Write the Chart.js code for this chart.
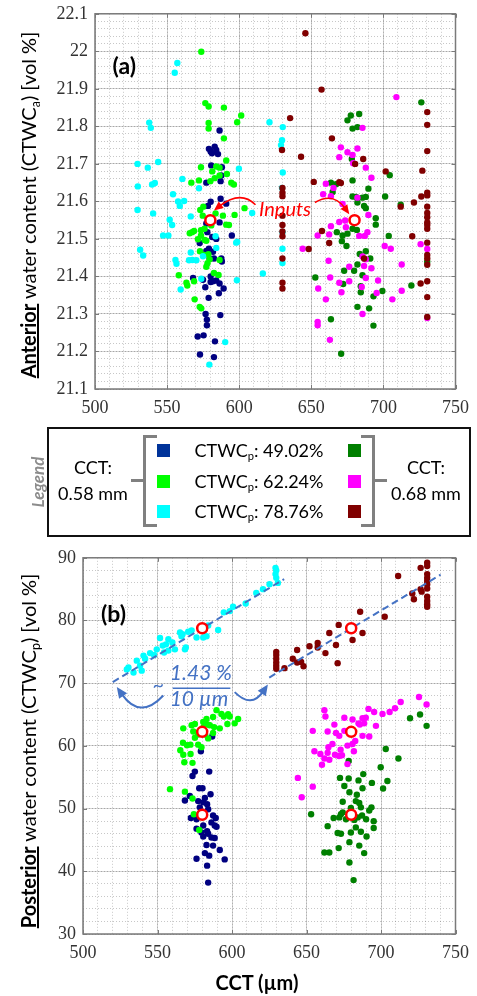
<!DOCTYPE html>
<html>
<head>
<meta charset="utf-8">
<script src="https://cdn.jsdelivr.net/npm/chart.js@4.4.1/dist/chart.umd.min.js"></script>
<style>
body { margin:0; background:#fff; width:477px; height:996px; position:relative; overflow:hidden; font-family: Lato, "Open Sans", sans-serif; color:#000; }
#topBox { position:absolute; left:0; top:-4px; width:477px; height:424px; }
#botBox { position:absolute; left:0; top:540px; width:477px; height:456px; }
.rot { position:absolute; white-space:nowrap; transform: translate(-50%,-50%) rotate(-90deg); }
.ytitle { font-size:20px; }
.ytitle b { text-decoration: underline; }
sub { font-size:0.62em; vertical-align:-0.3em; line-height:0; }
#legendBox { position:absolute; left:47px; top:427px; width:424px; height:110px; border:2px solid #111; box-sizing:border-box; }
.lg { position:absolute; white-space:nowrap; font-size:18px; transform: translate(-50%,-50%); }
.sq { position:absolute; width:13px; height:13px; }
.br { position:absolute; border:3px solid #808080; box-sizing:border-box; }
.tk { position:absolute; height:3px; background:#808080; }
</style>
</head>
<body>
<div id="topBox"><canvas id="antChart" width="477" height="424"></canvas></div>
<div id="botBox"><canvas id="postChart" width="477" height="456"></canvas></div>

<div class="rot ytitle" style="left:28px; top:205px;"><b>Anterior</b> water content (CTWC<sub>a</sub>) [vol %]</div>
<div class="rot ytitle" style="left:28px; top:751px;"><b>Posterior</b> water content (CTWC<sub>p</sub>) [vol %]</div>
<div class="lg" style="left:257px; top:982px; font-size:20px; font-weight:bold;">CCT (µm)</div>

<div class="rot" style="left:37px; top:482px; font-size:17px; font-weight:bold; font-style:italic; color:#8c8c8c;">Legend</div>
<div id="legendBox"></div>
<div class="lg" style="left:93px; top:467px;">CCT:</div>
<div class="lg" style="left:93px; top:493px;">0.58 mm</div>
<div class="lg" style="left:426px; top:467px;">CCT:</div>
<div class="lg" style="left:426px; top:493px;">0.68 mm</div>
<div class="tk" style="left:131px; top:479px; width:14px;"></div>
<div class="br" style="left:143px; top:435px; width:14px; height:92px; border-right:none;"></div>
<div class="br" style="left:361px; top:435px; width:14px; height:92px; border-left:none;"></div>
<div class="tk" style="left:373px; top:479px; width:14px;"></div>
<div id="legendRows"></div>

<script>
// CCT 0.58 mm groups (left), CCT 0.68 mm groups (right); [CCT um, water content]
var antBlue = [[586.4,21.789],[579.0,21.740],[583.0,21.746],[584.1,21.737],[581.1,21.728],[585.3,21.726],[580.2,21.733],[580.6,21.696],[588.0,21.691],[587.6,21.669],[577.2,21.650],[587.1,21.654],[587.1,21.607],[591.0,21.594],[580.2,21.599],[578.3,21.588],[586.4,21.544],[577.2,21.541],[577.9,21.518],[594.9,21.509],[581.3,21.505],[572.6,21.489],[584.1,21.500],[579.0,21.474],[577.2,21.468],[581.8,21.466],[579.5,21.448],[582.5,21.448],[587.6,21.448],[588.0,21.440],[568.0,21.396],[574.9,21.391],[580.2,21.400],[581.8,21.387],[580.2,21.385],[584.1,21.389],[586.4,21.381],[589.2,21.368],[585.9,21.355],[576.5,21.371],[578.8,21.343],[576.7,21.300],[577.6,21.285],[586.9,21.297],[571.2,21.240],[575.3,21.243],[583.2,21.227],[572.8,21.192],[582.5,21.185],[577.6,21.270]];
var antLime = [[573.7,21.999],[576.5,21.862],[578.8,21.853],[589.4,21.850],[601.4,21.829],[598.6,21.811],[578.8,21.809],[578.8,21.794],[589.4,21.768],[591.0,21.709],[573.5,21.691],[584.1,21.693],[586.4,21.690],[581.3,21.680],[591.5,21.673],[586.4,21.669],[583.0,21.662],[580.0,21.654],[572.1,21.656],[566.8,21.650],[594.5,21.650],[596.3,21.645],[575.1,21.586],[573.0,21.577],[574.7,21.562],[583.6,21.568],[588.7,21.562],[596.8,21.564],[603.7,21.582],[591.0,21.538],[592.9,21.537],[567.3,21.518],[568.7,21.521],[565.7,21.515],[576.0,21.527],[573.5,21.523],[580.6,21.536],[571.4,21.499],[576.0,21.497],[577.2,21.495],[573.5,21.509],[572.8,21.467],[578.6,21.459],[579.5,21.446],[578.0,21.435],[577.2,21.426],[586.4,21.444],[558.1,21.403],[563.4,21.383],[568.7,21.387],[569.1,21.339],[572.6,21.319],[573.7,21.315],[575.6,21.457],[585.7,21.404],[582.5,21.409],[564.0,21.376]];
var antCyan = [[557.1,21.969],[555.3,21.943],[537.6,21.810],[538.7,21.796],[529.5,21.700],[536.6,21.690],[543.8,21.705],[529.7,21.640],[539.6,21.645],[541.5,21.649],[560.6,21.660],[554.1,21.619],[557.6,21.600],[558.8,21.588],[561.8,21.601],[540.3,21.568],[529.5,21.577],[572.1,21.635],[551.8,21.551],[553.5,21.537],[547.2,21.509],[550.9,21.509],[566.4,21.560],[531.3,21.471],[533.4,21.456],[555.8,21.444],[556.5,21.434],[566.4,21.464],[567.5,21.444],[570.3,21.443],[565.2,21.443],[574.9,21.454],[584.1,21.476],[598.6,21.492],[598.4,21.390],[559.4,21.365],[573.7,21.394],[599.8,21.687],[609.0,21.569],[621.0,21.811],[630.2,21.798],[629.7,21.763],[629.0,21.750],[630.2,21.677],[629.7,21.636],[630.0,21.518],[630.0,21.474],[630.0,21.436],[616.4,21.408],[590.3,21.225],[579.3,21.165],[583.6,21.507],[597.9,21.490]];
var antGreen = [[726.3,21.864],[677.4,21.829],[675.1,21.816],[683.2,21.833],[678.6,21.794],[682.0,21.798],[678.1,21.713],[704.4,21.670],[678.6,21.656],[663.6,21.650],[667.1,21.646],[689.6,21.634],[664.8,21.625],[678.6,21.613],[681.0,21.612],[685.5,21.610],[687.8,21.612],[682.0,21.597],[686.6,21.588],[687.8,21.582],[701.2,21.613],[712.0,21.591],[694.7,21.555],[694.7,21.538],[678.6,21.527],[681.6,21.524],[667.7,21.518],[671.7,21.509],[675.1,21.514],[671.2,21.494],[674.4,21.481],[703.7,21.508],[687.8,21.467],[683.6,21.460],[690.9,21.448],[682.0,21.432],[672.8,21.415],[679.7,21.415],[685.5,21.403],[652.8,21.397],[672.1,21.380],[684.3,21.374],[684.3,21.358],[699.3,21.361],[719.4,21.376],[693.1,21.347],[682.0,21.319],[690.1,21.315],[693.1,21.269],[663.6,21.286],[730.4,21.439],[670.7,21.194]];
var antPink = [[709.0,21.878],[685.5,21.796],[670.5,21.744],[675.1,21.731],[682.0,21.741],[669.4,21.718],[678.6,21.724],[679.0,21.702],[687.8,21.690],[691.7,21.663],[660.1,21.647],[665.4,21.636],[658.2,21.619],[663.6,21.614],[671.7,21.593],[682.0,21.610],[689.6,21.564],[663.6,21.534],[669.4,21.545],[673.5,21.549],[674.0,21.531],[654.4,21.509],[662.4,21.512],[688.9,21.518],[683.2,21.508],[687.1,21.508],[644.0,21.474],[700.9,21.481],[705.1,21.474],[725.8,21.486],[730.4,21.473],[662.0,21.442],[685.5,21.453],[687.8,21.446],[686.6,21.428],[691.7,21.422],[676.3,21.426],[712.7,21.432],[663.1,21.397],[669.4,21.383],[676.3,21.387],[687.8,21.396],[696.3,21.389],[685.0,21.372],[654.8,21.368],[670.9,21.358],[695.3,21.356],[712.7,21.362],[660.1,21.339],[706.2,21.339],[685.5,21.300],[654.4,21.279],[730.4,21.289],[662.9,21.231],[654.4,21.270]];
var antRed = [[645.9,22.048],[657.1,21.898],[635.3,21.822],[664.3,21.768],[629.7,21.737],[642.9,21.719],[651.7,21.652],[669.4,21.651],[670.5,21.649],[630.0,21.636],[630.0,21.623],[630.0,21.614],[630.0,21.562],[630.0,21.537],[630.0,21.520],[630.0,21.507],[630.0,21.448],[630.0,21.383],[630.0,21.368],[686.0,21.713],[680.4,21.700],[701.6,21.680],[727.0,21.682],[730.4,21.838],[730.4,21.804],[730.4,21.734],[730.4,21.623],[730.4,21.616],[726.3,21.613],[721.2,21.597],[712.0,21.586],[730.4,21.586],[730.4,21.569],[730.4,21.558],[730.4,21.544],[730.4,21.537],[730.4,21.527],[730.4,21.490],[730.4,21.457],[730.4,21.448],[730.4,21.431],[730.4,21.387],[730.4,21.345],[730.4,21.292],[720.0,21.507],[725.8,21.381],[657.4,21.521],[662.4,21.489],[648.2,21.473],[686.6,21.448]];

var postBlue = [[586.7,61.5],[579.1,59.15],[575.1,55.9],[573.5,55.2],[584.7,55.9],[578.0,53.25],[580.2,53.25],[571.7,52.0],[568.4,51.3],[577.3,51.2],[580.7,51.0],[583.3,50.7],[585.6,52.3],[578.4,50.2],[584.0,49.9],[572.4,48.5],[576.2,48.3],[587.3,48.9],[589.1,48.5],[586.2,47.8],[588.4,47.3],[589.6,47.1],[580.7,47.3],[576.2,46.8],[583.3,46.4],[579.5,46.2],[584.0,46.0],[580.7,45.55],[586.2,45.4],[588.4,45.3],[582.9,44.2],[587.3,44.1],[591.8,43.4],[581.8,42.9],[584.7,42.5],[576.2,42.0],[595.1,41.9],[583.3,40.9],[584.0,38.2],[578.4,49.1],[581.8,51.7]];
var postLime = [[567.3,62.8],[572.9,63.3],[580.7,62.9],[584.0,63.4],[587.3,62.05],[591.8,62.8],[589.6,65.7],[594.5,64.7],[597.4,65.05],[598.5,64.7],[596.9,63.5],[601.8,63.6],[604.1,64.3],[577.3,61.8],[574.0,62.3],[575.1,61.3],[584.0,61.2],[567.1,60.5],[569.8,60.1],[572.1,60.2],[577.3,60.2],[579.5,59.8],[565.3,59.3],[567.3,58.6],[572.2,58.7],[568.0,57.4],[573.5,57.3],[558.4,53.1],[568.4,52.7],[573.5,51.6],[574.4,49.1],[578.0,46.6],[575.1,63.5],[580.7,63.8],[582.9,64.3],[587.3,64.6],[592.9,65.1],[585.1,63.3],[578.0,62.2],[582.0,61.8],[588.0,63.0]];
var postCyan = [[629.2,88.4],[629.7,88.0],[629.2,87.4],[629.7,86.8],[630.8,86.0],[625.2,85.8],[620.8,85.0],[616.3,84.4],[609.2,82.7],[600.7,82.2],[598.5,81.5],[594.5,81.3],[590.7,78.5],[584.0,79.2],[582.9,77.5],[580.7,77.3],[576.2,77.3],[572.9,78.4],[570.6,78.2],[566.8,77.8],[566.1,77.5],[565.1,78.1],[569.0,75.7],[561.7,75.4],[557.3,77.0],[551.7,77.2],[557.3,75.2],[555.7,76.2],[553.5,76.0],[554.4,74.9],[549.5,75.4],[547.7,74.5],[540.6,74.4],[541.7,73.9],[536.1,73.6],[538.3,72.8],[539.4,72.0],[533.9,71.7],[530.5,72.5],[529.4,72.2],[568.4,75.4],[545.0,74.8],[560.0,76.5]];
var postGreen = [[719.5,64.4],[726.2,65.0],[730.6,63.2],[711.7,58.0],[703.2,59.5],[699.8,56.6],[704.3,54.4],[701.4,53.2],[693.9,54.1],[688.1,55.5],[687.6,53.25],[684.9,54.5],[678.3,57.6],[672.5,54.9],[678.3,54.8],[675.4,53.6],[678.8,52.6],[683.8,52.2],[674.3,51.1],[683.1,51.2],[685.4,50.9],[679.8,50.1],[686.5,50.2],[692.1,49.7],[693.6,50.2],[673.1,49.1],[674.3,49.4],[668.2,48.5],[672.0,48.6],[676.5,48.3],[682.1,48.2],[684.4,48.6],[687.3,48.9],[690.0,48.3],[695.1,48.0],[695.1,46.9],[683.1,47.0],[686.5,46.3],[679.8,46.2],[690.3,45.55],[670.9,46.1],[673.1,46.0],[664.2,47.2],[653.1,49.1],[671.6,43.7],[678.8,44.65],[685.4,44.1],[688.7,42.9],[662.0,43.0],[665.3,43.0],[678.8,41.4],[681.6,38.6]];
var postPink = [[725.5,67.8],[730.6,66.6],[713.2,67.0],[709.4,66.0],[705.8,65.4],[691.6,65.9],[695.4,65.4],[701.0,65.1],[662.0,65.7],[662.7,64.7],[668.7,63.4],[675.4,64.5],[680.9,64.2],[684.9,63.6],[687.6,64.4],[689.8,64.5],[688.7,63.6],[685.8,63.4],[696.6,63.2],[654.2,62.4],[664.2,62.3],[669.8,62.05],[672.0,61.6],[675.4,62.4],[678.8,62.3],[687.6,61.6],[692.1,61.5],[682.7,60.8],[680.9,60.3],[677.5,60.05],[667.4,60.3],[664.7,59.8],[672.9,59.4],[681.8,59.15],[655.3,59.15],[659.3,58.7],[664.2,58.9],[669.1,58.6],[671.8,58.4],[662.0,58.0],[665.3,57.8],[660.4,57.0],[677.5,57.1],[673.8,58.5],[644.2,54.9],[654.2,53.5],[646.8,51.8]];
var postRed = [[731,89.2],[731,88.7],[731,87.4],[731,86.8],[731,86.3],[731,85.8],[731,85.1],[731,83.8],[731,83.1],[731,82.6],[731,82.2],[726.6,88.4],[726.6,85.0],[727.3,84.6],[721.0,84.3],[722.1,83.4],[711.5,87.1],[702.5,80.6],[687.6,78.0],[686.0,81.4],[680.9,76.9],[671.6,79.3],[665.3,78.0],[669.8,76.1],[670.9,73.2],[662.7,74.8],[657.5,76.4],[652.0,75.9],[657.5,75.7],[643.7,75.3],[643.7,73.3],[646.4,73.4],[648.0,72.7],[640.8,73.9],[629.7,75.0],[629.7,74.5],[629.7,73.9],[629.7,73.3],[629.7,72.8],[629.7,72.3],[635.2,72.4]];

// model inputs (red open circles)
var inputCCT = [580, 680];
var inputAnt = [21.55];
var inputPost = [49.02, 62.24, 78.76];

// trend lines, ~1.43 % per 10 um
var trendLeftX = [520, 635];
var trendLeftY = [70.18, 86.6];
var trendRightX = [625, 740];
var trendRightY = [70.9, 87.3];

var legendLabels = ["49.02%", "62.24%", "78.76%"];
var colLeft = ["#000080", "#00ff00", "#00ffff"];
var colRight = ["#008000", "#ff00ff", "#800000"];
var legendLeft = ["#00339a", "#00ff00", "#00ffff"];
var legendRight = ["#007f00", "#ff00ff", "#800000"];

var tickFont = { family: "Liberation Serif", size: 18 };
var majorGrid = "rgba(0,0,0,0.17)";
var minorGrid = "rgba(0,0,0,0.22)";
var frameColor = "#7a7a7a";

function dots(pts, color)
{
    return {
        data: pts.map(function (p) { return {x: p[0], y: p[1]}; }),
        backgroundColor: color,
        borderWidth: 0,
        pointRadius: 3.2,
        pointHoverRadius: 3.2,
        order: 2
    };
}

function inputCircles(ys)
{
    var pts = [];
    inputCCT.forEach(function (x) { ys.forEach(function (y) { pts.push({x: x, y: y}); }); });
    return {
        data: pts,
        backgroundColor: "#ffffff",
        borderColor: "#ff0000",
        borderWidth: 2.5,
        pointRadius: 5,
        pointHoverRadius: 5,
        order: 0
    };
}

function trend(xs, ys)
{
    return {
        data: xs.map(function (x, i) { return {x: x, y: ys[i]}; }),
        showLine: true,
        borderColor: "#4472c4",
        borderWidth: 2,
        borderDash: [7, 4],
        pointRadius: 0,
        order: 1
    };
}

function makeScales(xr, yr, xHeight, yWidth, labelFmt)
{
    return {
        x: {
            type: "linear", position: "bottom", min: xr[0], max: xr[1],
            ticks: { stepSize: xr[2], autoSkip: false, maxRotation: 0, padding: 8, color: "#333333", font: tickFont },
            grid: { color: majorGrid, drawTicks: false },
            border: { display: false },
            afterFit: function (s) { s.height = xHeight; }
        },
        xm: {
            type: "linear", position: "bottom", min: xr[0], max: xr[1],
            ticks: { display: false, stepSize: xr[3] },
            grid: { color: minorGrid, drawTicks: false },
            border: { display: false, dash: [1, 2] },
            afterFit: function (s) { s.height = 0; }
        },
        y: {
            type: "linear", position: "left", min: yr[0], max: yr[1],
            ticks: { stepSize: yr[2], autoSkip: false, padding: 7, color: "#333333", font: tickFont, callback: labelFmt },
            grid: { color: majorGrid, drawTicks: false },
            border: { display: false },
            afterFit: function (s) { s.width = yWidth; }
        },
        ym: {
            type: "linear", position: "left", min: yr[0], max: yr[1],
            ticks: { display: false, stepSize: yr[3] },
            grid: { color: minorGrid, drawTicks: false },
            border: { display: false, dash: [1, 2] },
            afterFit: function (s) { s.width = 0; }
        }
    };
}

// box round the plot area with short inward ticks, like the original figure
var framePlugin = {
    id: "frame",
    afterDraw: function (chart) {
        var ctx = chart.ctx, a = chart.chartArea;
        ctx.save();
        ctx.strokeStyle = frameColor;
        ctx.lineWidth = 1.5;
        ctx.strokeRect(a.left, a.top, a.right - a.left, a.bottom - a.top);
        ctx.lineWidth = 1;
        ctx.beginPath();
        chart.scales.x.ticks.forEach(function (t) {
            var px = Math.round(chart.scales.x.getPixelForValue(t.value)) + 0.5;
            ctx.moveTo(px, a.bottom); ctx.lineTo(px, a.bottom - 4);
            ctx.moveTo(px, a.top); ctx.lineTo(px, a.top + 4);
        });
        chart.scales.y.ticks.forEach(function (t) {
            var py = Math.round(chart.scales.y.getPixelForValue(t.value)) + 0.5;
            ctx.moveTo(a.left, py); ctx.lineTo(a.left + 4, py);
            ctx.moveTo(a.right, py); ctx.lineTo(a.right - 4, py);
        });
        ctx.stroke();
        ctx.restore();
    }
};

function drawArrow(ctx, p0, c, p2, color, width, head)
{
    ctx.strokeStyle = color;
    ctx.fillStyle = color;
    ctx.lineWidth = width;
    var ang = Math.atan2(p2.y - c.y, p2.x - c.x);
    var ex = p2.x - Math.cos(ang) * head * 0.7, ey = p2.y - Math.sin(ang) * head * 0.7;
    ctx.beginPath();
    ctx.moveTo(p0.x, p0.y);
    ctx.quadraticCurveTo(c.x, c.y, ex, ey);
    ctx.stroke();
    ctx.beginPath();
    ctx.moveTo(p2.x, p2.y);
    ctx.lineTo(p2.x - head * Math.cos(ang - 0.42), p2.y - head * Math.sin(ang - 0.42));
    ctx.lineTo(p2.x - head * Math.cos(ang + 0.42), p2.y - head * Math.sin(ang + 0.42));
    ctx.closePath();
    ctx.fill();
}

// panel letters, "Inputs" and the slope note, placed in data units
var notesPlugin = {
    id: "notes",
    afterDatasetsDraw: function (chart, args, opts) {
        var ctx = chart.ctx, sx = chart.scales.x, sy = chart.scales.y;
        function pt(p) { return { x: sx.getPixelForValue(p[0]), y: sy.getPixelForValue(p[1]) }; }
        ctx.save();
        (opts.texts || []).forEach(function (t) {
            var p = pt(t.at);
            ctx.font = t.font;
            ctx.fillStyle = t.color;
            ctx.textAlign = "center";
            ctx.textBaseline = "middle";
            ctx.fillText(t.text, p.x, p.y);
        });
        (opts.bars || []).forEach(function (b) {
            var p0 = pt(b.from), p1 = pt(b.to);
            ctx.strokeStyle = b.color;
            ctx.lineWidth = 1.5;
            ctx.beginPath(); ctx.moveTo(p0.x, p0.y); ctx.lineTo(p1.x, p1.y); ctx.stroke();
        });
        (opts.arrows || []).forEach(function (a) {
            drawArrow(ctx, pt(a.from), pt(a.ctrl), pt(a.to), a.color, a.width, a.head);
        });
        ctx.restore();
    }
};

function oneDecimal(v) { return parseFloat(v.toFixed(1)).toString(); }
function whole(v) { return Math.round(v).toString(); }

var antChart = new Chart(document.getElementById("antChart"), {
    type: "scatter",
    data: {
        datasets: [
            inputCircles(inputAnt),
            dots(antRed, colRight[2]), dots(antPink, colRight[1]), dots(antGreen, colRight[0]),
            dots(antCyan, colLeft[2]), dots(antLime, colLeft[1]), dots(antBlue, colLeft[0])
        ]
    },
    options: {
        responsive: false,
        animation: false,
        layout: { padding: { top: 12, right: 20, left: 0, bottom: 0 } },
        scales: makeScales([500, 750, 50, 10], [21.1, 22.1, 0.1, 0.02], 31, 95, oneDecimal),
        plugins: {
            legend: { display: false },
            tooltip: { enabled: false },
            notes: {
                texts: [
                    { at: [520.3, 21.96], text: "(a)", font: "bold 23px Lato", color: "#000" },
                    { at: [631.8, 21.579], text: "Inputs", font: "italic 20px Lato", color: "#ff0000" }
                ],
                arrows: [
                    { from: [611.3, 21.591], ctrl: [601.0, 21.631], to: [582.5, 21.576], color: "#ff0000", width: 1.6, head: 10 },
                    { from: [652.5, 21.597], ctrl: [665.3, 21.626], to: [676.3, 21.566], color: "#ff0000", width: 1.6, head: 10 }
                ]
            }
        }
    },
    plugins: [framePlugin, notesPlugin]
});

var postChart = new Chart(document.getElementById("postChart"), {
    type: "scatter",
    data: {
        datasets: [
            inputCircles(inputPost),
            trend(trendLeftX, trendLeftY), trend(trendRightX, trendRightY),
            dots(postRed, colRight[2]), dots(postPink, colRight[1]), dots(postGreen, colRight[0]),
            dots(postCyan, colLeft[2]), dots(postLime, colLeft[1]), dots(postBlue, colLeft[0])
        ]
    },
    options: {
        responsive: false,
        animation: false,
        layout: { padding: { top: 15, right: 20, left: 0, bottom: 0 } },
        scales: makeScales([500, 750, 50, 10], [30, 90, 10, 2], 62, 83, whole),
        plugins: {
            legend: { display: false },
            tooltip: { enabled: false },
            notes: {
                texts: [
                    { at: [520.5, 81.0], text: "(b)", font: "bold 23px Lato", color: "#000" },
                    { at: [579.1, 71.64], text: "1.43 %", font: "italic 21px Lato", color: "#4472c4" },
                    { at: [577.8, 67.4], text: "10 \u00b5m", font: "italic 21px Lato", color: "#4472c4" },
                    { at: [550.6, 69.6], text: "~", font: "italic 20px Lato", color: "#4472c4" }
                ],
                bars: [ { from: [560.2, 69.2], to: [598.9, 69.2], color: "#4472c4" } ],
                arrows: [
                    { from: [553.9, 68.04], ctrl: [538.3, 64.07], to: [522.7, 69.4], color: "#4472c4", width: 2, head: 12 },
                    { from: [601.8, 68.57], ctrl: [613.0, 65.9], to: [624.1, 69.8], color: "#4472c4", width: 2, head: 12 }
                ]
            }
        }
    },
    plugins: [framePlugin, notesPlugin]
});

// legend rows: swatches and CTWC_p labels
var rowsHtml = "";
var rowY = [450, 481, 511];
legendLabels.forEach(function (lab, i) {
    rowsHtml += '<div class="sq" style="left:157px; top:' + (rowY[i] - 6) + 'px; background:' + legendLeft[i] + ';"></div>';
    rowsHtml += '<div class="sq" style="left:348px; top:' + (rowY[i] - 6) + 'px; background:' + legendRight[i] + ';"></div>';
    rowsHtml += '<div class="lg" style="left:259px; top:' + rowY[i] + 'px;">CTWC<sub>p</sub>: ' + lab + '</div>';
});
document.getElementById("legendRows").innerHTML = rowsHtml;
</script>
</body>
</html>
